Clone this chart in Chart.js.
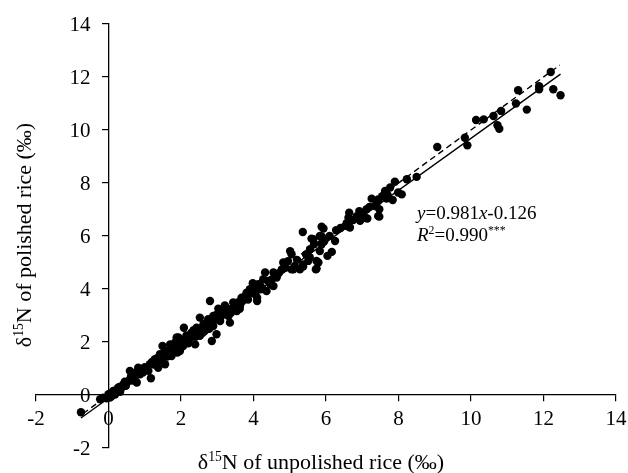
<!DOCTYPE html>
<html>
<head>
<meta charset="utf-8">
<script src="https://cdn.jsdelivr.net/npm/chart.js@4.4.0/dist/chart.umd.min.js"></script>
<style>
  html, body { margin: 0; padding: 0; background: #ffffff; }
  #wrap { width: 628px; height: 473px; }
</style>
</head>
<body>
<div id="wrap"><canvas id="riceChart"></canvas></div>
<script>
// --- DATA ---
const tickValues = [-2, 0, 2, 4, 6, 8, 10, 12, 14];

// d15N of unpolished rice (x) and polished rice (y), per sample
const unpolished = [
  -0.76, -0.23, -0.14, -0.05, 0.00, 0.04, 0.05, 0.08, 0.10, 0.13, 0.18, 0.20, 0.22, 0.27, 0.30, 0.32, 0.35, 0.38, 0.41, 0.45,
  0.48, 0.55, 0.59, 0.62, 0.65, 0.68, 0.72, 0.75, 0.78, 0.82, 0.87, 0.90, 0.95, 1.00, 1.05, 1.10, 1.14, 1.17, 1.20, 1.25,
  1.28, 1.30, 1.35, 1.37, 1.42, 1.45, 1.49, 1.50, 1.55, 1.56, 1.61, 1.62, 1.65, 1.70, 1.70, 1.74, 1.79, 1.80, 1.85, 1.88,
  1.88, 1.90, 1.93, 1.95, 1.97, 2.05, 2.06, 2.08, 2.11, 2.15, 2.16, 2.20, 2.25, 2.29, 2.35, 2.39, 2.40, 2.43, 2.48, 2.52,
  2.52, 2.55, 2.60, 2.62, 2.66, 2.70, 2.72, 2.75, 2.78, 2.80, 2.82, 2.85, 2.89, 2.89, 2.95, 2.98, 3.00, 3.03, 3.05, 3.08,
  3.12, 3.17, 3.20, 3.21, 3.25, 3.30, 3.31, 3.35, 3.38, 3.40, 3.44, 3.45, 3.50, 3.54, 3.58, 3.62, 3.63, 3.67, 3.70, 3.75,
  3.81, 3.81, 3.85, 3.90, 3.90, 3.95, 3.98, 4.02, 4.05, 4.10, 4.10, 4.10, 4.13, 4.18, 4.20, 4.25, 4.27, 4.32, 4.36, 4.40,
  4.46, 4.50, 4.55, 4.55, 4.60, 4.64, 4.70, 4.78, 4.82, 4.88, 4.95, 5.01, 5.05, 5.05, 5.10, 5.14, 5.20, 5.28, 5.36, 5.37,
  5.37, 5.45, 5.51, 5.55, 5.56, 5.60, 5.65, 5.67, 5.72, 5.74, 5.74, 5.79, 5.83, 5.83, 5.88, 5.88, 5.88, 5.93, 5.95, 6.04,
  6.10, 6.16, 6.25, 6.28, 6.40, 6.57, 6.57, 6.62, 6.64, 6.66, 6.75, 6.85, 6.92, 6.94, 6.94, 7.03, 7.08, 7.12, 7.14, 7.20,
  7.26, 7.35, 7.44, 7.44, 7.44, 7.47, 7.47, 7.55, 7.63, 7.67, 7.70, 7.77, 7.84, 7.90, 7.99, 8.09, 8.23, 8.50, 9.07, 9.83,
  9.90, 10.14, 10.35, 10.62, 10.73, 10.78, 10.83, 11.24, 11.30, 11.54, 11.88, 11.88, 12.20, 12.27, 12.47
];
const polished = [
  -0.65, -0.16, -0.10, -0.12, 0.03, -0.10, 0.05, -0.05, 0.00, 0.15, 0.02, 0.10, 0.20, 0.28, 0.30, 0.12, 0.25, 0.33, 0.40, 0.50,
  0.35, 0.53, 0.91, 0.70, 0.55, 0.78, 0.60, 0.85, 0.47, 1.03, 0.78, 0.95, 0.85, 1.05, 1.00, 0.91, 1.16, 0.63, 1.25, 1.15,
  1.35, 1.20, 1.40, 1.03, 1.54, 1.30, 1.85, 1.40, 1.60, 1.16, 1.66, 1.45, 1.50, 1.91, 1.70, 1.47, 1.91, 1.75, 2.00, 1.85,
  2.17, 1.60, 2.17, 1.95, 1.66, 2.00, 1.85, 2.54, 2.10, 2.25, 2.10, 1.95, 2.15, 2.35, 2.45, 1.91, 2.20, 2.54, 2.40, 2.92,
  2.23, 2.50, 2.35, 2.67, 2.42, 2.60, 2.75, 2.86, 2.50, 3.55, 2.70, 2.04, 2.98, 2.60, 2.85, 2.29, 3.05, 3.26, 2.95, 2.79,
  3.00, 3.11, 3.15, 3.38, 3.05, 3.25, 2.98, 2.73, 3.10, 3.23, 3.49, 3.30, 3.40, 3.17, 3.50, 3.25, 3.38, 3.67, 3.55, 3.70,
  3.80, 3.86, 3.60, 3.92, 3.99, 3.85, 4.22, 3.95, 3.80, 4.11, 3.67, 3.55, 4.18, 3.99, 4.10, 4.00, 4.37, 4.62, 3.92, 4.30,
  4.18, 4.35, 4.62, 4.11, 4.55, 4.43, 4.60, 4.74, 5.00, 4.80, 5.05, 5.43, 5.31, 4.74, 4.74, 4.87, 5.10, 4.74, 6.15, 4.93,
  4.85, 5.30, 5.06, 5.20, 5.50, 5.90, 5.88, 5.69, 4.74, 5.06, 4.77, 5.00, 5.43, 6.00, 6.35, 5.69, 5.98, 6.28, 5.80, 5.25,
  6.00, 5.40, 5.81, 6.22, 6.30, 6.48, 6.38, 6.69, 6.88, 6.32, 6.60, 6.75, 6.94, 6.57, 6.88, 6.78, 6.69, 7.01, 6.66, 7.10,
  7.41, 7.13, 7.32, 7.38, 6.75, 7.01, 6.73, 7.50, 7.70, 7.41, 7.55, 7.83, 7.36, 8.05, 7.64, 7.57, 8.14, 8.23, 9.36, 9.71,
  9.42, 10.38, 10.40, 10.53, 10.18, 10.05, 10.72, 11.00, 11.50, 10.77, 11.65, 11.54, 12.19, 11.54, 11.31
];

// fitted line y=0.981x-0.126 and the 1:1 line, end points
const fitLineX = [-0.76, 12.47];
const fitLineY = [-0.87, 12.11];
const oneToOneX = [-0.70, 12.45];
const oneToOneY = [-0.70, 12.45];

const FONT = '"Liberation Serif", "Times New Roman", serif';
const TICK_SIZE = 21;

function toPoints(xs, ys) {
  return xs.map((x, i) => ({ x: x, y: ys[i] }));
}

// --- RICH TEXT HELPERS (italics, superscripts) ---
function partFont(p, size) {
  const fs = p.sup ? size * 0.62 : size;
  return (p.italic ? 'italic ' : '') + fs + 'px ' + FONT;
}
function richWidth(ctx, parts, size) {
  let w = 0;
  parts.forEach(p => { ctx.font = partFont(p, size); w += ctx.measureText(p.text).width; });
  return w;
}
function drawRich(ctx, parts, x, y, size) {
  let cx = x;
  parts.forEach(p => {
    ctx.font = partFont(p, size);
    ctx.fillText(p.text, cx, p.sup ? y - size * 0.36 : y);
    cx += ctx.measureText(p.text).width;
  });
}

const xTitle = [{ text: 'δ' }, { text: '15', sup: true }, { text: 'N of unpolished rice (‰)' }];
const yTitle = [{ text: 'δ' }, { text: '15', sup: true }, { text: 'N of polished rice (‰)' }];
const eqLine = [{ text: 'y', italic: true }, { text: '=0.981' }, { text: 'x', italic: true }, { text: '-0.126' }];
const r2Line = [{ text: 'R', italic: true }, { text: '2', sup: true }, { text: '=0.990' }, { text: '***', sup: true }];

const textPlugin = {
  id: 'riceText',
  afterDraw(chart) {
    const ctx = chart.ctx;
    const xs = chart.scales.x, ys = chart.scales.y;
    ctx.save();
    ctx.fillStyle = '#000000';

    // y tick labels, left of the y axis (which sits at x = 0)
    ctx.font = TICK_SIZE + 'px ' + FONT;
    ctx.textAlign = 'right';
    ctx.textBaseline = 'middle';
    const yAxisX = xs.getPixelForValue(0);
    tickValues.forEach(v => ctx.fillText(String(v), yAxisX - 18, ys.getPixelForValue(v) + 1));

    ctx.textBaseline = 'alphabetic';
    ctx.textAlign = 'left';

    // x axis title
    const tSize = 22;
    const wx = richWidth(ctx, xTitle, tSize);
    drawRich(ctx, xTitle, 321 - wx / 2, 469, tSize);

    // y axis title (rotated)
    const wy = richWidth(ctx, yTitle, tSize);
    ctx.save();
    ctx.translate(24, 235);
    ctx.rotate(-Math.PI / 2);
    drawRich(ctx, yTitle, -wy / 2, 7, tSize);
    ctx.restore();

    // regression annotation
    drawRich(ctx, eqLine, 417, 219, 19);
    drawRich(ctx, r2Line, 417, 241, 19);
    ctx.restore();
  }
};

// --- CHART ---
const axisCommon = {
  type: 'linear',
  min: -2, max: 14,
  afterBuildTicks: axis => { axis.ticks = tickValues.map(v => ({ value: v })); },
  afterFit: axis => { axis.paddingLeft = 0; axis.paddingRight = 0; axis.paddingTop = 0; axis.paddingBottom = 0; },
  grid: { display: true, drawOnChartArea: false, drawTicks: true, tickLength: 6, color: '#000000', lineWidth: 1.2 },
  border: { display: true, color: '#000000', width: 1.3 }
};

const ctx = document.getElementById('riceChart').getContext('2d');
new Chart(ctx, {
  type: 'scatter',
  data: {
    datasets: [
      { label: 'samples', data: toPoints(unpolished, polished), backgroundColor: '#000000', borderWidth: 0, pointRadius: 4.2 },
      { label: 'fit', data: toPoints(fitLineX, fitLineY), showLine: true, borderColor: '#000000', borderWidth: 1.4, pointRadius: 0 },
      { label: '1:1', data: toPoints(oneToOneX, oneToOneY), showLine: true, borderColor: '#000000', borderWidth: 1.4, borderDash: [6, 4], pointRadius: 0 }
    ]
  },
  options: {
    responsive: true, maintainAspectRatio: false, animation: false,
    layout: { padding: { left: 36, right: 12, top: 24, bottom: 25 } },
    plugins: { legend: { display: false }, tooltip: { enabled: false } },
    scales: {
      x: { ...axisCommon, position: { y: 0 },
           ticks: { color: '#000000', font: { family: FONT, size: TICK_SIZE }, padding: 6 } },
      y: { ...axisCommon, position: { x: 0 }, ticks: { display: false } }
    }
  },
  plugins: [textPlugin]
});
</script>
</body>
</html>
